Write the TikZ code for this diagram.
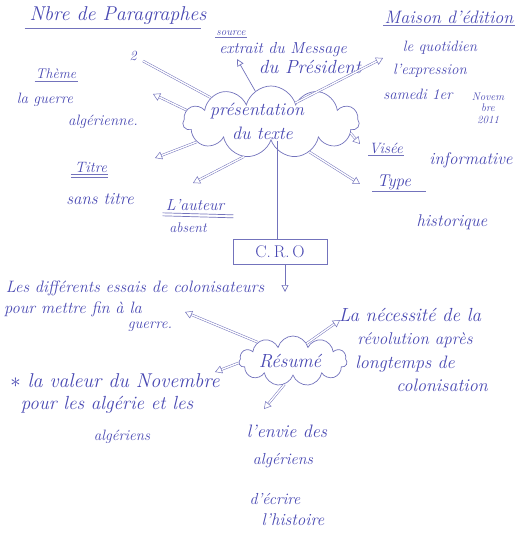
\documentclass[tikz,border=0pt]{standalone}
\usetikzlibrary{shapes.symbols,arrows.meta}
\definecolor{ink}{RGB}{72,72,178}
\definecolor{pen}{RGB}{115,115,188}
\begin{document}
\begin{tikzpicture}[x=1pt,y=-1pt,
  every node/.style={text=ink, inner sep=1pt},
  hw/.style={font=\fontsize{#1}{#1}\selectfont\itshape},
  hw/.default=14,
  hwsmall/.style={font=\fontsize{11}{11.5}\selectfont\itshape},
  uline/.style={draw=pen, line width=0.7pt},
  dblarr/.style={draw=pen, line width=0.5pt, double=white, double distance=1.4pt, -{Triangle[open,length=7pt,width=8pt]}},
  dblline/.style={draw=pen, line width=0.5pt, double=white, double distance=1.4pt},
  sarr/.style={draw=pen, line width=0.7pt, -{Triangle[open,length=7pt,width=7pt]}},
  cloudnode/.style={cloud, cloud puffs=11, cloud ignores aspect, draw=pen, line width=0.7pt}]
\useasboundingbox (0,0) rectangle (526,539);

% central cloud
\node[cloudnode, minimum width=176pt, minimum height=72pt] (pres) at (271,122) {};
\node[hw=18, align=center] (prestxt) at (257,121) {présentation\\[6pt]\hspace*{0.6em}du texte};

% top-left
\node[hw=20] (nbre) at (118,16) {Nbre de Paragraphes};
\draw[uline] ([xshift=-4pt,yshift=-2pt]nbre.south west) -- ([xshift=-6pt,yshift=-2pt]nbre.south east);
\node[hw] (two) at (133,56) {2};
\coordinate (twoend) at (143,61);
\draw[dblline] (pres.158) -- (twoend);

\node[hw] (theme) at (56,74) {Thème};
\draw[uline] ([yshift=-1pt]theme.south west) -- ([yshift=-1pt]theme.south east);
\node[hw=15] (guerre) at (45,100) {la guerre};
\node[hw=15] (alg) at (103,122) {algérienne.};
\coordinate (themeend) at (153,94);
\draw[dblarr] (pres.172) -- (themeend);

% source
\node[hwsmall] (source) at (231,33) {source};
\draw[uline] ([yshift=-0.5pt]source.south west) -- ([yshift=-0.5pt]source.south east);
\node[hw=16] (extrait) at (283,50) {extrait du Message};
\node[hw=19] (president) at (310,67) {du Président};
\coordinate (srcend) at (237,59);
\draw[sarr] (pres.117) -- (srcend);

% maison d'edition
\node[hw=18] (maison) at (449,17) {Maison d'édition};
\draw[uline] ([yshift=-1pt]maison.south west) -- ([yshift=-1pt]maison.south east);
\node[hw=15] (quot) at (440,48) {le quotidien};
\node[hw=15] (expr) at (430,71) {l'expression};
\node[hw=15] (samedi) at (418,94) {samedi 1er};
\node[hwsmall, align=center] (novem) at (488,108) {Novem\\bre\\2011};
\coordinate (maisonend) at (383,58);
\draw[dblarr] (pres.38) -- (maisonend);

% visee
\node[hw=15] (visee) at (386,148) {Visée};
\draw[uline] ([yshift=-1pt]visee.south west) -- ([yshift=-1pt]visee.south east);
\node[hw=17] (inform) at (471,160) {informative};
\coordinate (viseeend) at (360,144);
\draw[dblarr] (pres.-8) -- (viseeend);

% type
\node[hw=17] (type) at (394,182) {Type};
\draw[uline] ([xshift=-4pt,yshift=-1pt]type.south west) -- ([xshift=14pt,yshift=-1pt]type.south east);
\node[hw=17] (hist) at (452,222) {historique};
\coordinate (typeend) at (360,184);
\draw[dblarr] (pres.-38) -- (typeend);

% titre
\node[hw=15] (titre) at (91,167) {Titre};
\draw[uline] ([xshift=-3pt,yshift=-1pt]titre.south west) -- ([yshift=-1pt]titre.south east);
\draw[uline] ([xshift=-3pt,yshift=-3.5pt]titre.south west) -- ([yshift=-3.5pt]titre.south east);
\node[hw=17] (sans) at (100,199) {sans titre};
\coordinate (titreend) at (155,158);
\draw[dblarr] (pres.-165) -- (titreend);

% auteur
\node[hw=16] (auteur) at (195,205) {L'auteur};
\draw[uline] ([xshift=-2pt,yshift=-1pt]auteur.south west) -- ([xshift=8pt,yshift=-3pt]auteur.south east);
\draw[uline] ([xshift=-2pt,yshift=-4pt]auteur.south west) -- ([xshift=8pt,yshift=-6pt]auteur.south east);
\node[hw] (absent) at (188,228) {absent};
\coordinate (auteurend) at (193,183);
\draw[dblarr] (pres.-128) -- (auteurend);

% CRO
\node[draw=pen, line width=0.7pt, minimum width=94pt, minimum height=25pt, font=\fontsize{17}{17}\selectfont] (cro) at (280,252) {C.\,R.\,O};
\draw[draw=pen, line width=0.7pt] (pres.south -| 277,0) -- (277,0 |- cro.north);
\coordinate (croend) at (285,292);
\draw[sarr] (cro.south -| 285,0) -- (croend);

% resume cloud
\node[cloudnode, minimum width=108pt, minimum height=50pt] (resume) at (293,361) {};
\node[hw=19] (resumetxt) at (290,361) {Résumé};

\node[hw=16.5] (essais1) at (135,288) {Les différents essais de colonisateurs};
\node[hw=16.5] (essais2) at (73,309) {pour mettre fin à la};
\node[hw=15] (essais3) at (150,327) {guerre.};
\coordinate (essaisend) at (185,312);
\draw[dblarr] (resume.152) -- (essaisend);

\node[hw=20] (valeur1) at (115,381) {$\ast$ la valeur du Novembre};
\node[hw=19] (valeur2) at (107,405) {pour les algérie et les};
\node[hw=15] (valeur3) at (122,437) {algériens};
\coordinate (valeurend) at (215,372);
\draw[dblarr] (resume.182) -- (valeurend);

\node[hw=19] (nec1) at (410,315) {La nécessité de la};
\node[hw=17] (nec2) at (415,340) {révolution après};
\node[hw=18] (nec3) at (405,364) {longtemps de};
\node[hw=18] (nec4) at (442,385) {colonisation};
\coordinate (necend) at (340,320);
\draw[dblarr] (resume.52) -- (necend);

\node[hw=18] (env1) at (287,431) {l'envie des};
\node[hw=16] (env2) at (283,461) {algériens};
\node[hw=16] (env3) at (275,499) {d'écrire};
\node[hw=17] (env4) at (293,520) {l'histoire};
\coordinate (envend) at (264,409);
\draw[dblarr] (resume.-110) -- (envend);
\end{tikzpicture}
\end{document}
